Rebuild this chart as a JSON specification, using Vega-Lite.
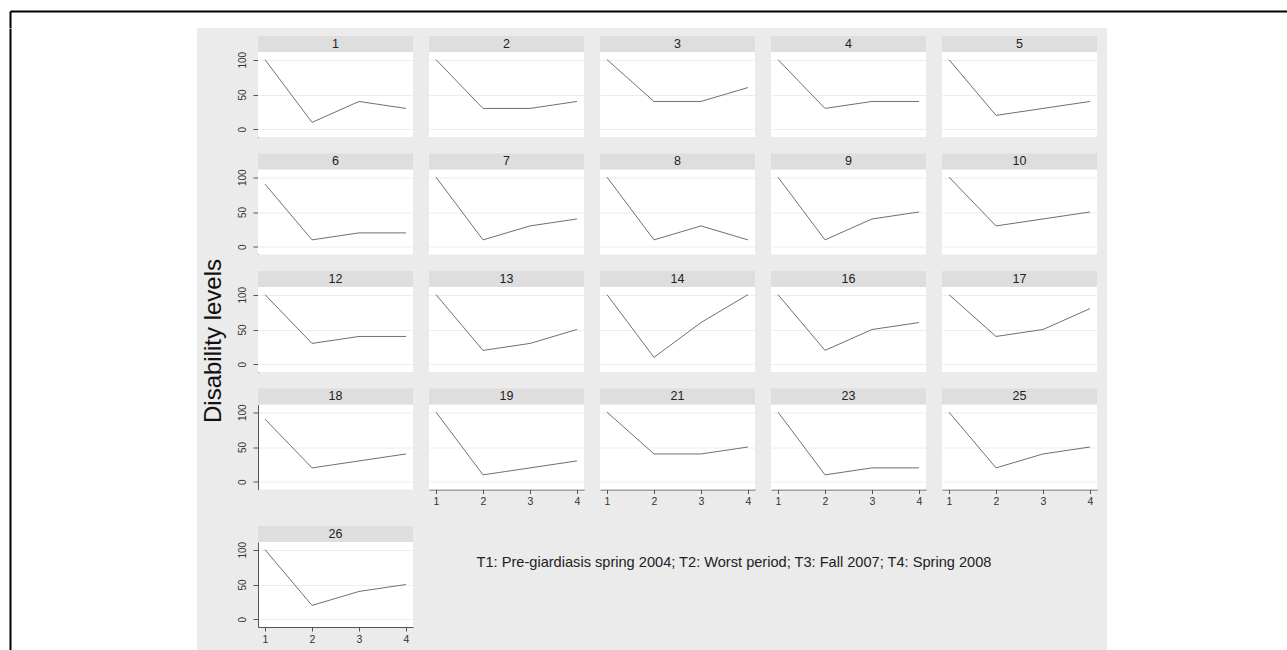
{
"$schema": "https://vega.github.io/schema/vega-lite/v6.json",
"background": "#ebebeb",
"padding": 0,
"datasets": {"d": [
{"id":1,"t":1,"v":100},{"id":1,"t":2,"v":10},{"id":1,"t":3,"v":40},{"id":1,"t":4,"v":30},
{"id":2,"t":1,"v":100},{"id":2,"t":2,"v":30},{"id":2,"t":3,"v":30},{"id":2,"t":4,"v":40},
{"id":3,"t":1,"v":100},{"id":3,"t":2,"v":40},{"id":3,"t":3,"v":40},{"id":3,"t":4,"v":60},
{"id":4,"t":1,"v":100},{"id":4,"t":2,"v":30},{"id":4,"t":3,"v":40},{"id":4,"t":4,"v":40},
{"id":5,"t":1,"v":100},{"id":5,"t":2,"v":20},{"id":5,"t":3,"v":30},{"id":5,"t":4,"v":40},
{"id":6,"t":1,"v":90},{"id":6,"t":2,"v":10},{"id":6,"t":3,"v":20},{"id":6,"t":4,"v":20},
{"id":7,"t":1,"v":100},{"id":7,"t":2,"v":10},{"id":7,"t":3,"v":30},{"id":7,"t":4,"v":40},
{"id":8,"t":1,"v":100},{"id":8,"t":2,"v":10},{"id":8,"t":3,"v":30},{"id":8,"t":4,"v":10},
{"id":9,"t":1,"v":100},{"id":9,"t":2,"v":10},{"id":9,"t":3,"v":40},{"id":9,"t":4,"v":50},
{"id":10,"t":1,"v":100},{"id":10,"t":2,"v":30},{"id":10,"t":3,"v":40},{"id":10,"t":4,"v":50},
{"id":12,"t":1,"v":100},{"id":12,"t":2,"v":30},{"id":12,"t":3,"v":40},{"id":12,"t":4,"v":40},
{"id":13,"t":1,"v":100},{"id":13,"t":2,"v":20},{"id":13,"t":3,"v":30},{"id":13,"t":4,"v":50},
{"id":14,"t":1,"v":100},{"id":14,"t":2,"v":10},{"id":14,"t":3,"v":60},{"id":14,"t":4,"v":100},
{"id":16,"t":1,"v":100},{"id":16,"t":2,"v":20},{"id":16,"t":3,"v":50},{"id":16,"t":4,"v":60},
{"id":17,"t":1,"v":100},{"id":17,"t":2,"v":40},{"id":17,"t":3,"v":50},{"id":17,"t":4,"v":80},
{"id":18,"t":1,"v":90},{"id":18,"t":2,"v":20},{"id":18,"t":3,"v":30},{"id":18,"t":4,"v":40},
{"id":19,"t":1,"v":100},{"id":19,"t":2,"v":10},{"id":19,"t":3,"v":20},{"id":19,"t":4,"v":30},
{"id":21,"t":1,"v":100},{"id":21,"t":2,"v":40},{"id":21,"t":3,"v":40},{"id":21,"t":4,"v":50},
{"id":23,"t":1,"v":100},{"id":23,"t":2,"v":10},{"id":23,"t":3,"v":20},{"id":23,"t":4,"v":20},
{"id":25,"t":1,"v":100},{"id":25,"t":2,"v":20},{"id":25,"t":3,"v":40},{"id":25,"t":4,"v":50},
{"id":26,"t":1,"v":100},{"id":26,"t":2,"v":20},{"id":26,"t":3,"v":40},{"id":26,"t":4,"v":50}
]},
"data": {"name": "d"},
"config": {
  "view": {"stroke": null, "fill": "white"},
  "font": "Liberation Sans",
  "axis": {"labelFont": "Liberation Sans", "labelColor": "#333333", "domainColor": "#555555", "tickColor": "#555555", "gridColor": "#ececec", "labelFontSize": 10}
},
"spacing": 0,
"vconcat": [
  {"width": 1287, "height": 28, "data": {"values": [{}]}, "view": {"fill": "white"}, "mark": {"type": "text", "fontSize": 1},
   "encoding": {"text": {"value": ""},
     "x": {"datum": 0.5, "type": "quantitative", "scale": {"domain": [0, 1], "range": [10, 1300]}, "axis": {"orient": "top", "offset": -11, "domainColor": "black", "domainWidth": 2, "ticks": false, "labels": false, "grid": false, "title": null}},
     "y": {"datum": 1, "type": "quantitative", "scale": {"domain": [0, 1], "range": [28, 11]}, "axis": {"orient": "left", "offset": -10, "domainColor": "black", "domainWidth": 2, "ticks": false, "labels": false, "grid": false, "title": null}}}},
  {"spacing": 0, "hconcat": [
    {"width": 197, "height": 650, "data": {"values": [{}]}, "view": {"fill": "white"}, "mark": {"type": "text", "fontSize": 1},
     "encoding": {"text": {"value": ""},
       "y": {"datum": 0.5, "type": "quantitative", "scale": {"domain": [0, 1]}, "axis": {"orient": "left", "offset": -10, "domainColor": "black", "domainWidth": 2, "ticks": false, "labels": false, "grid": false, "title": null}}}},
    {"spacing": 0, "vconcat": [
      {"width": 910, "height": 7, "data": {"values": [{}]}, "view": {"fill": "transparent"}, "mark": {"type": "text", "fontSize": 1}, "encoding": {"text": {"value": ""}}},
      {"spacing": 5, "hconcat": [
        {"width": 34, "height": 578, "data": {"values": [{"lab": "Disability levels"}]}, "view": {"fill": "transparent"}, "mark": {"type": "text", "angle": 270, "fontSize": 24, "color": "#111111", "font": "Liberation Sans"}, "encoding": {"text": {"field": "lab", "type": "nominal"}}},
        {"spacing": 18, "vconcat": [
          {"spacing": 15.5, "vconcat": [
            {"transform": [{"filter": {"field": "id", "oneOf": [1,2,3,4,5]}}], "facet": {"column": {"field": "id", "type": "ordinal", "header": {"labels": false, "title": null}}}, "spacing": 16,
             "spec": {"width": 155, "height": 85, "layer": [
               {"mark": {"type": "line", "color": "#707070", "strokeWidth": 1}, "encoding": {"x": {"field": "t", "type": "quantitative", "scale": {"domain": [0.85, 4.15], "nice": false, "zero": false}, "axis": null}, "y": {"field": "v", "type": "quantitative", "scale": {"domain": [-11, 111], "nice": false, "zero": false}, "axis": {"values": [0,50,100], "title": null, "labelAngle": 270, "labelAlign": "center", "labelBaseline": "bottom", "tickSize": 5, "labelPadding": 6, "grid": true}}}},
               {"transform": [{"filter": "datum.t==1"}], "mark": {"type": "rect", "color": "#dedede"}, "encoding": {"x": {"datum": 0.85, "type": "quantitative", "axis": null}, "x2": {"datum": 4.15}, "y": {"datum": 111, "type": "quantitative", "axis": {"values": [0,50,100], "title": null, "labelAngle": 270, "labelAlign": "center", "labelBaseline": "bottom", "tickSize": 5, "labelPadding": 6, "grid": true}}, "y2": {"datum": 134}}},
               {"transform": [{"filter": "datum.t==1"}], "mark": {"type": "text", "fontSize": 12.5, "color": "#222222", "font": "Liberation Sans"}, "encoding": {"x": {"datum": 2.5, "type": "quantitative", "axis": null}, "y": {"datum": 122.5, "type": "quantitative", "axis": {"values": [0,50,100], "title": null, "labelAngle": 270, "labelAlign": "center", "labelBaseline": "bottom", "tickSize": 5, "labelPadding": 6, "grid": true}}, "text": {"field": "id", "type": "nominal"}}}
             ]}},
            {"transform": [{"filter": {"field": "id", "oneOf": [6,7,8,9,10]}}], "facet": {"column": {"field": "id", "type": "ordinal", "header": {"labels": false, "title": null}}}, "spacing": 16,
             "spec": {"width": 155, "height": 85, "layer": [
               {"mark": {"type": "line", "color": "#707070", "strokeWidth": 1}, "encoding": {"x": {"field": "t", "type": "quantitative", "scale": {"domain": [0.85, 4.15], "nice": false, "zero": false}, "axis": null}, "y": {"field": "v", "type": "quantitative", "scale": {"domain": [-11, 111], "nice": false, "zero": false}, "axis": {"values": [0,50,100], "title": null, "labelAngle": 270, "labelAlign": "center", "labelBaseline": "bottom", "tickSize": 5, "labelPadding": 6, "grid": true}}}},
               {"transform": [{"filter": "datum.t==1"}], "mark": {"type": "rect", "color": "#dedede"}, "encoding": {"x": {"datum": 0.85, "type": "quantitative", "axis": null}, "x2": {"datum": 4.15}, "y": {"datum": 111, "type": "quantitative", "axis": {"values": [0,50,100], "title": null, "labelAngle": 270, "labelAlign": "center", "labelBaseline": "bottom", "tickSize": 5, "labelPadding": 6, "grid": true}}, "y2": {"datum": 134}}},
               {"transform": [{"filter": "datum.t==1"}], "mark": {"type": "text", "fontSize": 12.5, "color": "#222222", "font": "Liberation Sans"}, "encoding": {"x": {"datum": 2.5, "type": "quantitative", "axis": null}, "y": {"datum": 122.5, "type": "quantitative", "axis": {"values": [0,50,100], "title": null, "labelAngle": 270, "labelAlign": "center", "labelBaseline": "bottom", "tickSize": 5, "labelPadding": 6, "grid": true}}, "text": {"field": "id", "type": "nominal"}}}
             ]}},
            {"transform": [{"filter": {"field": "id", "oneOf": [12,13,14,16,17]}}], "facet": {"column": {"field": "id", "type": "ordinal", "header": {"labels": false, "title": null}}}, "spacing": 16,
             "spec": {"width": 155, "height": 85, "layer": [
               {"mark": {"type": "line", "color": "#707070", "strokeWidth": 1}, "encoding": {"x": {"field": "t", "type": "quantitative", "scale": {"domain": [0.85, 4.15], "nice": false, "zero": false}, "axis": null}, "y": {"field": "v", "type": "quantitative", "scale": {"domain": [-11, 111], "nice": false, "zero": false}, "axis": {"values": [0,50,100], "title": null, "labelAngle": 270, "labelAlign": "center", "labelBaseline": "bottom", "tickSize": 5, "labelPadding": 6, "grid": true}}}},
               {"transform": [{"filter": "datum.t==1"}], "mark": {"type": "rect", "color": "#dedede"}, "encoding": {"x": {"datum": 0.85, "type": "quantitative", "axis": null}, "x2": {"datum": 4.15}, "y": {"datum": 111, "type": "quantitative", "axis": {"values": [0,50,100], "title": null, "labelAngle": 270, "labelAlign": "center", "labelBaseline": "bottom", "tickSize": 5, "labelPadding": 6, "grid": true}}, "y2": {"datum": 134}}},
               {"transform": [{"filter": "datum.t==1"}], "mark": {"type": "text", "fontSize": 12.5, "color": "#222222", "font": "Liberation Sans"}, "encoding": {"x": {"datum": 2.5, "type": "quantitative", "axis": null}, "y": {"datum": 122.5, "type": "quantitative", "axis": {"values": [0,50,100], "title": null, "labelAngle": 270, "labelAlign": "center", "labelBaseline": "bottom", "tickSize": 5, "labelPadding": 6, "grid": true}}, "text": {"field": "id", "type": "nominal"}}}
             ]}},
            {"spacing": 16, "hconcat": [
              {"transform": [{"filter": "datum.id==18"}], "width": 155, "height": 85, "layer": [
                {"mark": {"type": "line", "color": "#707070", "strokeWidth": 1}, "encoding": {"x": {"field": "t", "type": "quantitative", "scale": {"domain": [0.85, 4.15], "nice": false, "zero": false}, "axis": null}, "y": {"field": "v", "type": "quantitative", "scale": {"domain": [-11, 111], "nice": false, "zero": false}, "axis": {"values": [0,50,100], "title": null, "labelAngle": 270, "labelAlign": "center", "labelBaseline": "bottom", "tickSize": 5, "labelPadding": 6, "grid": true}}}},
                {"transform": [{"filter": "datum.t==1"}], "mark": {"type": "rect", "color": "#dedede"}, "encoding": {"x": {"datum": 0.85, "type": "quantitative", "axis": null}, "x2": {"datum": 4.15}, "y": {"datum": 111, "type": "quantitative", "axis": {"values": [0,50,100], "title": null, "labelAngle": 270, "labelAlign": "center", "labelBaseline": "bottom", "tickSize": 5, "labelPadding": 6, "grid": true}}, "y2": {"datum": 134}}},
                {"transform": [{"filter": "datum.t==1"}], "mark": {"type": "text", "fontSize": 12.5, "color": "#222222", "font": "Liberation Sans"}, "encoding": {"x": {"datum": 2.5, "type": "quantitative", "axis": null}, "y": {"datum": 122.5, "type": "quantitative", "axis": {"values": [0,50,100], "title": null, "labelAngle": 270, "labelAlign": "center", "labelBaseline": "bottom", "tickSize": 5, "labelPadding": 6, "grid": true}}, "text": {"field": "id", "type": "nominal"}}}
              ]},
              {"transform": [{"filter": {"field": "id", "oneOf": [19,21,23,25]}}], "facet": {"column": {"field": "id", "type": "ordinal", "header": {"labels": false, "title": null}}}, "spacing": 16,
               "spec": {"width": 155, "height": 85, "layer": [
                 {"mark": {"type": "line", "color": "#707070", "strokeWidth": 1}, "encoding": {"x": {"field": "t", "type": "quantitative", "scale": {"domain": [0.85, 4.15], "nice": false, "zero": false}, "axis": {"values": [1,2,3,4], "title": null, "format": "d", "tickSize": 4, "labelPadding": 3, "labelFlush": false, "grid": false, "labelFontSize": 10.5}}, "y": {"field": "v", "type": "quantitative", "scale": {"domain": [-11, 111], "nice": false, "zero": false}, "axis": {"values": [0,50,100], "title": null, "labels": false, "ticks": false, "domain": false, "grid": true}}}},
                 {"transform": [{"filter": "datum.t==1"}], "mark": {"type": "rect", "color": "#dedede"}, "encoding": {"x": {"datum": 0.85, "type": "quantitative", "axis": {"values": [1,2,3,4], "title": null, "format": "d", "tickSize": 4, "labelPadding": 3, "labelFlush": false, "grid": false, "labelFontSize": 10.5}}, "x2": {"datum": 4.15}, "y": {"datum": 111, "type": "quantitative", "axis": {"values": [0,50,100], "title": null, "labels": false, "ticks": false, "domain": false, "grid": true}}, "y2": {"datum": 134}}},
                 {"transform": [{"filter": "datum.t==1"}], "mark": {"type": "text", "fontSize": 12.5, "color": "#222222", "font": "Liberation Sans"}, "encoding": {"x": {"datum": 2.5, "type": "quantitative", "axis": {"values": [1,2,3,4], "title": null, "format": "d", "tickSize": 4, "labelPadding": 3, "labelFlush": false, "grid": false, "labelFontSize": 10.5}}, "y": {"datum": 122.5, "type": "quantitative", "axis": {"values": [0,50,100], "title": null, "labels": false, "ticks": false, "domain": false, "grid": true}}, "text": {"field": "id", "type": "nominal"}}}
               ]}}
            ]}
          ]},
          {"spacing": 16, "hconcat": [
            {"transform": [{"filter": "datum.id==26"}], "width": 155, "height": 85, "layer": [
              {"mark": {"type": "line", "color": "#707070", "strokeWidth": 1}, "encoding": {"x": {"field": "t", "type": "quantitative", "scale": {"domain": [0.85, 4.15], "nice": false, "zero": false}, "axis": {"values": [1,2,3,4], "title": null, "format": "d", "tickSize": 4, "labelPadding": 3, "labelFlush": false, "grid": false, "labelFontSize": 10.5}}, "y": {"field": "v", "type": "quantitative", "scale": {"domain": [-11, 111], "nice": false, "zero": false}, "axis": {"values": [0,50,100], "title": null, "labelAngle": 270, "labelAlign": "center", "labelBaseline": "bottom", "tickSize": 5, "labelPadding": 6, "grid": true}}}},
              {"transform": [{"filter": "datum.t==1"}], "mark": {"type": "rect", "color": "#dedede"}, "encoding": {"x": {"datum": 0.85, "type": "quantitative", "axis": {"values": [1,2,3,4], "title": null, "format": "d", "tickSize": 4, "labelPadding": 3, "labelFlush": false, "grid": false, "labelFontSize": 10.5}}, "x2": {"datum": 4.15}, "y": {"datum": 111, "type": "quantitative", "axis": {"values": [0,50,100], "title": null, "labelAngle": 270, "labelAlign": "center", "labelBaseline": "bottom", "tickSize": 5, "labelPadding": 6, "grid": true}}, "y2": {"datum": 134}}},
              {"transform": [{"filter": "datum.t==1"}], "mark": {"type": "text", "fontSize": 12.5, "color": "#222222", "font": "Liberation Sans"}, "encoding": {"x": {"datum": 2.5, "type": "quantitative", "axis": {"values": [1,2,3,4], "title": null, "format": "d", "tickSize": 4, "labelPadding": 3, "labelFlush": false, "grid": false, "labelFontSize": 10.5}}, "y": {"datum": 122.5, "type": "quantitative", "axis": {"values": [0,50,100], "title": null, "labelAngle": 270, "labelAlign": "center", "labelBaseline": "bottom", "tickSize": 5, "labelPadding": 6, "grid": true}}, "text": {"field": "id", "type": "nominal"}}}
            ]},
            {"width": 610, "height": 42, "data": {"values": [{"note": "T1: Pre-giardiasis spring 2004; T2: Worst period; T3: Fall 2007; T4: Spring 2008"}]}, "view": {"fill": "transparent"}, "mark": {"type": "text", "fontSize": 14.6, "color": "#222222", "font": "Liberation Sans"}, "encoding": {"text": {"field": "note", "type": "nominal"}}}
          ]}
        ]}
      ]}
    ]},
    {"width": 180, "height": 650, "data": {"values": [{}]}, "view": {"fill": "white"}, "mark": {"type": "text", "fontSize": 1}, "encoding": {"text": {"value": ""}}}
  ]}
]
}
